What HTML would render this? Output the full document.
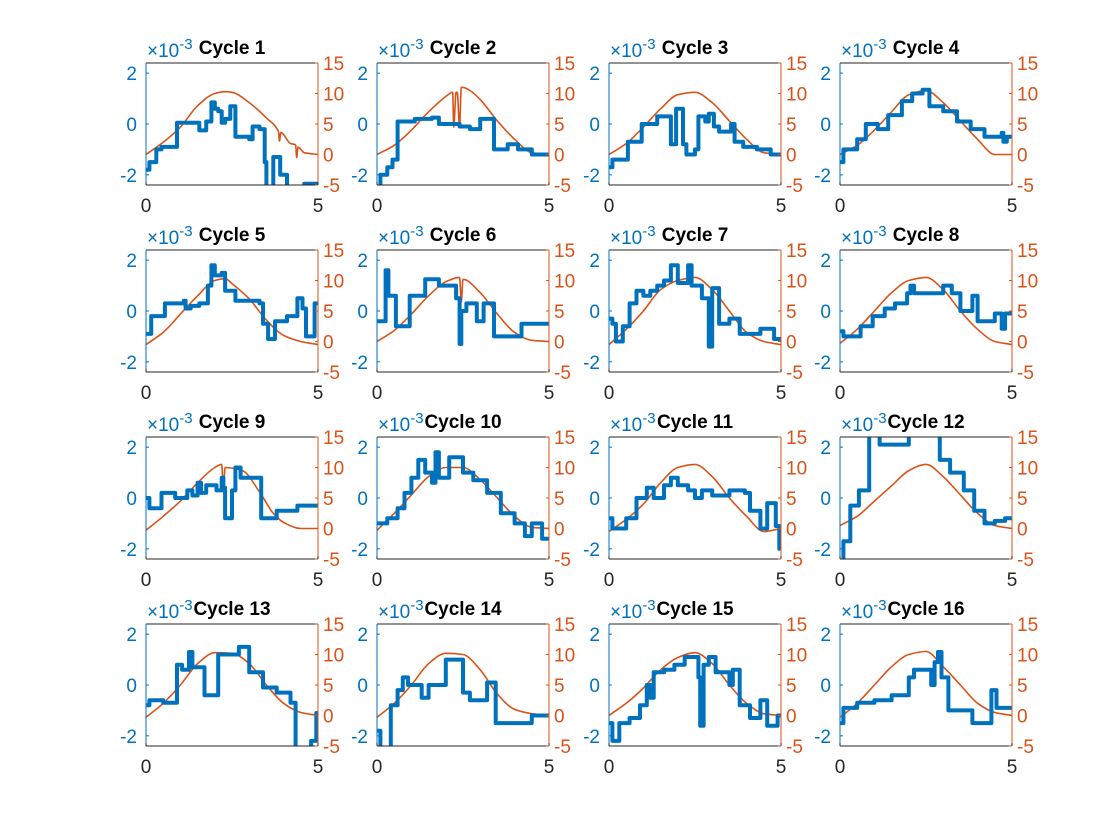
<!DOCTYPE html>
<html><head><meta charset="utf-8"><style>
html,body{margin:0;padding:0;background:#fff;}
svg{display:block;font-family:"Liberation Sans",Arial,sans-serif;}
</style></head><body>
<svg id="fig" width="1120" height="840" viewBox="0 0 1120 840" xmlns="http://www.w3.org/2000/svg"></svg>
<script>
const cycleTitles = ["Cycle 1","Cycle 2","Cycle 3","Cycle 4","Cycle 5","Cycle 6","Cycle 7","Cycle 8","Cycle 9","Cycle 10","Cycle 11","Cycle 12","Cycle 13","Cycle 14","Cycle 15","Cycle 16"];
const leftTicks = [-2, 0, 2];
const rightTicks = [-5, 0, 5, 10, 15];
const xTicks = [0, 5];
const blueX = [
 [0,0.1,0.3,0.45,0.9,1.55,1.75,1.9,2.0,2.1,2.2,2.3,2.45,2.6,3.0,3.1,3.3,3.45,3.5,3.7,3.9,4.1,4.6,5],
 [0,0.1,0.3,0.45,0.6,1.1,1.6,1.8,2.4,2.7,3.0,3.4,3.8,4.1,4.5,5],
 [0,0.1,0.55,0.95,1.4,1.8,1.95,2.15,2.25,2.5,2.6,2.8,2.9,3.05,3.2,3.55,3.65,3.9,4.3,4.7,5],
 [0,0.1,0.5,0.75,1.1,1.4,1.8,2.1,2.4,2.6,3.0,3.4,3.8,4.2,4.7,4.75,4.85,5],
 [0,0.15,0.55,1.1,1.15,1.3,1.55,1.8,1.9,2.0,2.2,2.3,2.6,3.3,3.4,3.55,3.75,4.1,4.4,4.55,4.65,4.9,5],
 [0,0.25,0.33,0.55,0.95,1.4,1.8,2.3,2.4,2.45,2.6,2.9,3.1,3.4,4.2,5],
 [0,0.1,0.2,0.4,0.6,0.8,1.0,1.2,1.4,1.6,1.8,2.0,2.3,2.4,2.7,2.9,3.0,3.2,3.5,3.8,4.4,4.8,5],
 [0,0.1,0.6,0.95,1.3,1.6,1.95,2.05,2.15,3.0,3.25,3.5,3.85,4.0,4.5,4.7,4.8,5],
 [0,0.1,0.45,0.85,1.2,1.35,1.5,1.6,1.75,2.05,2.2,2.25,2.3,2.5,2.6,2.75,3.35,3.8,4.4,5],
 [0,0.3,0.6,0.8,1.0,1.2,1.4,1.6,1.7,1.8,2.1,2.5,2.8,3.2,3.6,4.0,4.3,4.5,4.8,5],
 [0,0.1,0.5,0.8,1.1,1.3,1.6,1.8,2.0,2.3,2.5,2.7,3.0,3.5,3.95,4.1,4.4,4.6,4.85,4.95,5],
 [0,0.1,0.3,0.55,0.85,1.15,2.0,2.9,3.2,3.6,3.9,4.2,4.5,4.8,5],
 [0,0.1,0.5,0.9,1.05,1.25,1.35,1.7,2.1,2.7,3.0,3.4,3.8,4.2,4.35,4.8,4.95,5],
 [0,0.1,0.4,0.6,0.75,0.9,1.3,1.5,2.0,2.5,2.7,3.2,3.45,4.5,5],
 [0,0.1,0.3,0.6,0.9,1.1,1.2,1.3,1.6,1.9,2.2,2.6,2.65,2.75,2.9,3.1,3.5,3.6,3.8,4.1,4.4,4.6,4.9,5],
 [0,0.1,0.5,1.0,1.5,2.0,2.15,2.65,2.75,2.85,2.95,3.15,3.85,4.4,4.55,5]
];
const blueY = [
 [-1.8,-1.5,-1.0,-0.9,0.05,-0.25,0.1,0.85,0.6,0.5,0.05,0.2,0.7,-0.5,-0.6,-0.1,-0.2,-1.5,-2.5,-1.3,-2.0,-2.5,-2.35,-2.35],
 [-2.5,-2.0,-1.7,-1.4,0.1,0.2,0.25,0.0,-0.1,-0.2,0.2,-1.0,-0.8,-1.0,-1.2,-1.2],
 [-1.7,-1.4,-0.7,0.0,0.3,-0.8,0.6,-0.8,-1.2,-1.0,0.3,0.1,0.4,-0.1,-0.3,0.0,-0.7,-0.9,-1.0,-1.2,-1.2],
 [-1.5,-1.0,-0.6,0.0,-0.2,0.35,0.9,1.2,1.35,0.7,0.5,0.1,-0.2,-0.5,-0.35,-0.7,-0.5,-0.5],
 [-0.9,-0.2,0.3,0.4,0.1,0.2,0.3,1.0,1.8,1.4,1.5,0.8,0.4,0.3,-0.5,-1.1,-0.4,-0.2,0.5,0.1,-1.0,0.3,0.3],
 [-0.4,1.6,0.6,-0.6,0.6,1.25,1.0,0.5,-1.3,0.0,0.3,-0.4,0.3,-1.0,-0.5,-0.5],
 [-0.3,-0.5,-1.2,-0.6,0.3,0.8,0.6,0.8,1.0,1.2,1.8,1.1,1.8,1.0,0.5,-1.4,0.9,-0.5,-0.3,-0.9,-0.7,-1.1,-1.1],
 [-0.8,-1.0,-0.6,-0.2,0.1,0.3,0.7,1.0,0.7,1.0,0.7,0.0,0.6,-0.4,-0.1,-0.7,-0.1,-0.1],
 [0.0,-0.4,0.2,0.0,0.3,0.1,0.6,0.2,0.5,0.3,0.8,0.4,-0.8,0.3,1.2,0.8,-0.8,-0.5,-0.3,-0.3],
 [-1.0,-0.8,-0.4,0.2,0.8,1.5,1.0,0.6,1.8,0.8,1.6,1.0,0.7,0.2,-0.6,-1.0,-1.5,-1.0,-1.6,-1.6],
 [-0.8,-1.2,-0.8,0.0,0.4,0.0,0.5,0.8,0.5,0.3,0.0,0.3,0.1,0.3,0.2,-0.5,-1.2,-0.2,-1.1,-2.0,-2.0],
 [-2.5,-1.7,-0.3,0.3,2.5,2.1,2.5,1.5,1.0,0.3,-0.5,-1.0,-0.9,-0.8,-0.8],
 [-0.8,-0.6,-0.7,0.8,0.6,1.3,0.7,-0.4,1.2,1.5,0.5,-0.1,-0.3,-0.7,-2.5,-2.2,-1.1,-1.1],
 [-1.8,-2.5,-0.8,-0.2,0.3,0.0,-0.5,0.0,1.0,-0.3,-0.6,0.1,-1.5,-1.2,-1.2],
 [-1.5,-2.2,-1.5,-1.3,-0.8,0.0,-0.5,0.5,0.6,0.8,1.1,0.3,-1.6,0.8,1.1,0.5,0.0,0.6,-0.8,-1.3,-0.6,-1.6,-1.2,-1.2],
 [-1.5,-0.9,-0.7,-0.6,-0.4,0.3,0.6,0.0,0.9,1.3,0.3,-1.0,-1.5,-0.2,-0.9,-0.9]
];
const orangeX = [
 [0,0.5,1,1.5,2,2.3,2.5,3,3.5,3.85,3.88,3.92,4.2,4.35,4.38,4.42,4.6,5],
 [0,0.5,1,1.5,2,2.2,2.23,2.3,2.33,2.4,2.45,2.5,2.7,3,3.5,4,4.5,5],
 [0,0.5,1,1.5,2,2.5,3,3.5,4,4.5,5],
 [0,0.5,1,1.5,2,2.5,3,3.5,4,4.5,5],
 [0,0.5,1,1.5,2,2.3,2.5,3,3.5,4,4.5,5],
 [0,0.5,1,1.5,2,2.4,2.45,2.5,3,3.5,4,4.5,5],
 [0,0.5,1,1.5,2,2.5,3,3.5,4,4.5,5],
 [0,0.5,1,1.5,2,2.5,3,3.5,4,4.5,5],
 [0,0.5,1,1.5,2,2.2,2.25,2.3,2.8,3.3,3.7,4,4.5,5],
 [0,0.5,1,1.5,2,2.5,3,3.5,4,4.5,5],
 [0,0.5,1,1.5,2,2.5,3,3.5,4,4.5,5],
 [0,0.5,1,1.5,2,2.5,3,3.5,4,4.5,5],
 [0,0.5,1,1.5,2,2.5,3,3.5,4,4.5,5],
 [0,0.5,1,1.5,2,2.5,3,3.5,4,4.5,5],
 [0,0.5,1,1.5,2,2.5,3,3.5,4,4.5,5],
 [0,0.5,1,1.5,2,2.5,3,3.5,4,4.5,5]
];
const orangeY = [
 [0,2,4.5,8,10,10.3,10.2,8.5,6,3.8,2.2,3.6,1.8,1.6,-0.5,1.2,0.3,0],
 [0,1.5,4,7,9.5,10.2,4.5,10.2,10.2,4.5,11,11,10.5,9,5.5,2.5,0.3,0],
 [0,1.8,4.5,7.5,9.8,10.2,8.5,5.5,2.5,0.3,0],
 [0,1.5,4,7,9.8,10.5,8.5,5.5,2.5,0,0],
 [-0.5,1.5,4.5,7.5,10,10.3,9.5,7,3.5,1,0,-0.5],
 [0,1.8,4.5,7.5,9.8,10.5,6.5,10.2,8,4.5,1.5,0.2,0],
 [-0.5,2,5,8.5,10,10.5,8.5,5,1.5,0,-0.5],
 [-0.3,2,5,8,10,10.5,8.5,5,2,0,-0.5],
 [-0.3,2,4.5,7.5,10,10.5,6.5,10,9.5,6,2.5,1,0,0],
 [-0.3,2.5,5.5,8.5,10,10,8,5,2,0.2,0],
 [-0.5,1.5,4,7.5,10,10.5,8.5,5,2,-0.5,0],
 [0.5,2,4.5,7,9.5,10.5,8.5,5.5,2.5,0.5,0],
 [-0.3,2,5,8.5,10.3,10.2,8.5,5,2,0.5,0],
 [-0.3,2,5,8.5,10.2,10,7.5,3.5,1,0.3,0],
 [0,2,4.5,7.5,9.5,10.3,8.5,5,2,0.3,0],
 [-0.3,2,5,8,10,10.5,8,5,2,0.5,0]
];

const NS = "http://www.w3.org/2000/svg";
const svg = document.getElementById('fig');
const colLeft = [146, 377, 609, 840];
const rowTop = [63, 250, 437, 624];
const W = 172, H = 122;
const BLUE = "#0072BD", ORANGE = "#D95319", DARK = "#262626";
function mk(tag, attrs, parent) {
  const e = document.createElementNS(NS, tag);
  for (const k in attrs) e.setAttribute(k, attrs[k]);
  (parent || svg).appendChild(e);
  return e;
}
// monotone cubic path through pixel points
function smoothPath(px, py) {
  const n = px.length, d = [], m = [];
  for (let k = 0; k < n - 1; k++) d.push((py[k + 1] - py[k]) / (px[k + 1] - px[k]));
  for (let k = 0; k < n; k++) {
    if (k === 0) m.push(d[0]);
    else if (k === n - 1) m.push(d[n - 2]);
    else if (d[k - 1] * d[k] <= 0) m.push(0);
    else m.push(2 / (1 / d[k - 1] + 1 / d[k]));
  }
  let s = 'M' + px[0].toFixed(1) + ' ' + py[0].toFixed(1);
  for (let k = 0; k < n - 1; k++) {
    const h = (px[k + 1] - px[k]) / 3;
    s += 'C' + (px[k] + h).toFixed(1) + ' ' + (py[k] + m[k] * h).toFixed(1) + ' ' +
         (px[k + 1] - h).toFixed(1) + ' ' + (py[k + 1] - m[k + 1] * h).toFixed(1) + ' ' +
         px[k + 1].toFixed(1) + ' ' + py[k + 1].toFixed(1);
  }
  return s;
}
const defs = mk('defs', {});
for (let i = 0; i < 16; i++) {
  const L = colLeft[i % 4], T = rowTop[Math.floor(i / 4)];
  const xs = v => L + v / 5 * W;
  const yl = v => T + H / 2 - v / 4.8 * H;
  const yr = v => T + H - (v + 5) / 20 * H;
  const g = mk('g', {});
  
  
  const cp = mk('clipPath', { id: 'c' + i }, defs);
  mk('rect', { x: L, y: T, width: W, height: H }, cp);
  mk('rect', { x: L, y: T, width: W, height: H, fill: '#fff' }, g);
  const od = smoothPath(orangeX[i].map(xs), orangeY[i].map(yr));
  const op = mk('path', { d: od, fill: 'none', stroke: ORANGE, 'stroke-width': 1.6, 'clip-path': 'url(#c' + i + ')' }, g);
  
  
  let bd = '';
  const bx = blueX[i], by = blueY[i];
  for (let j = 0; j < bx.length; j++) {
    if (j === 0) bd += 'M' + xs(bx[0]).toFixed(1) + ' ' + yl(by[0]).toFixed(1);
    else bd += 'L' + xs(bx[j]).toFixed(1) + ' ' + yl(by[j - 1]).toFixed(1) + 'L' + xs(bx[j]).toFixed(1) + ' ' + yl(by[j]).toFixed(1);
  }
  const bp = mk('path', { d: bd, fill: 'none', stroke: BLUE, 'stroke-width': 4, 'stroke-linejoin': 'round', 'clip-path': 'url(#c' + i + ')' }, g);
  
  
  mk('line', { x1: L, y1: T, x2: L + W, y2: T, stroke: DARK, 'stroke-width': 1 }, g);
  mk('line', { x1: L, y1: T + H, x2: L + W, y2: T + H, stroke: DARK, 'stroke-width': 1 }, g);
  mk('line', { x1: L, y1: T, x2: L, y2: T + H, stroke: BLUE, 'stroke-width': 1 }, g);
  mk('line', { x1: L + W, y1: T, x2: L + W, y2: T + H, stroke: ORANGE, 'stroke-width': 1 }, g);
  leftTicks.forEach(v => {
    const y = yl(v);
    mk('line', { x1: L, y1: y, x2: L + 3, y2: y, stroke: BLUE }, g);
    const t = mk('text', { x: L - 9, y: y + 7, 'text-anchor': 'end', 'font-size': 19, fill: BLUE }, g);
    t.textContent = v;
    
    
  });
  rightTicks.forEach(v => {
    const y = yr(v);
    mk('line', { x1: L + W - 3, y1: y, x2: L + W, y2: y, stroke: ORANGE }, g);
    const t = mk('text', { x: L + W + 5, y: y + 7, 'font-size': 19, fill: ORANGE }, g);
    t.textContent = v;
    
    
  });
  xTicks.forEach(v => {
    const x = xs(v);
    mk('line', { x1: x, y1: T + H, x2: x, y2: T + H - 3, stroke: DARK }, g);
    const t = mk('text', { x: x, y: T + H + 27, 'text-anchor': 'middle', 'font-size': 19, fill: DARK }, g);
    t.textContent = v;
    
    
  });
  const ex = mk('text', { x: L + 1, y: T - 6, 'font-size': 19, fill: BLUE }, g);
  ex.innerHTML = '×10<tspan dy="-8" font-size="15">-3</tspan>';
  
  
  const tt = mk('text', { x: L + W / 2, y: T - 9, 'text-anchor': 'middle', 'font-size': 19, 'font-weight': 'bold', fill: '#000' }, g);
  tt.textContent = cycleTitles[i];
  
  
}
</script>
</body></html>
